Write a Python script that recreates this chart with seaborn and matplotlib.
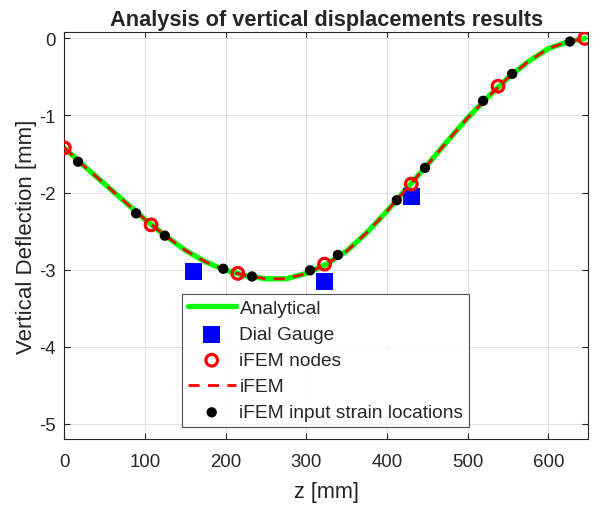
import numpy as np
import pandas as pd
import matplotlib
matplotlib.use('Agg')
import matplotlib.pyplot as plt
import seaborn as sns

# analytical curve
z_curve = [0, 25, 50, 75, 100, 125, 150, 175, 200, 225, 250, 275, 300, 325,
           350, 375, 400, 425, 450, 475, 500, 525, 550, 575, 600, 625, 645]
w_analytical = [-1.42, -1.66, -1.89, -2.12, -2.35, -2.56, -2.75, -2.90, -3.01,
                -3.08, -3.12, -3.12, -3.05, -2.93, -2.76, -2.52, -2.24, -1.94,
                -1.64, -1.33, -1.03, -0.76, -0.51, -0.30, -0.13, -0.04, 0.0]
w_ifem = [-1.42, -1.66, -1.89, -2.12, -2.35, -2.56, -2.75, -2.90, -3.01,
          -3.08, -3.12, -3.12, -3.05, -2.93, -2.76, -2.52, -2.24, -1.94,
          -1.64, -1.33, -1.03, -0.76, -0.51, -0.30, -0.13, -0.04, 0.0]

# dial gauge readings
z_gauge = [160, 322, 430]
w_gauge = [-3.03, -3.15, -2.05]

# iFEM nodes
z_nodes = [0, 107.5, 215, 322.5, 430, 537.5, 645]
w_nodes = [-1.42, -2.42, -3.05, -2.93, -1.89, -0.62, 0.0]

# strain sensor locations
z_strain = [17, 89, 124.5, 197, 232.5, 304.5, 339, 412, 447, 519, 555, 626.5]
w_strain = [-1.60, -2.27, -2.56, -2.99, -3.09, -3.01, -2.81, -2.10, -1.68,
            -0.81, -0.46, -0.04]

sns.set_style('ticks')
plt.rcParams['font.family'] = ['Liberation Sans', 'DejaVu Sans']
plt.rcParams['axes.unicode_minus'] = False

fig = plt.figure(figsize=(6, 5.06), dpi=100)
ax = fig.add_axes([0.1072, 0.1304, 0.8728, 0.8038])

sns.lineplot(x=z_curve, y=w_analytical, ax=ax, color='#00ff00', linewidth=3.8,
             label='Analytical', zorder=2)
sns.scatterplot(x=z_gauge, y=w_gauge, ax=ax, color='#0000ff', marker='s', s=150,
                edgecolor='none', label='Dial Gauge', zorder=3)
sns.scatterplot(x=z_nodes, y=w_nodes, ax=ax, marker='o', s=70, facecolor='none',
                edgecolor='#ff0000', linewidth=2.3, label='iFEM nodes', zorder=5)
sns.lineplot(x=z_curve, y=w_ifem, ax=ax, color='#ff0000', linewidth=2,
             linestyle=(0, (4, 3)), label='iFEM', zorder=4)
sns.scatterplot(x=z_strain, y=w_strain, ax=ax, color='black', marker='o', s=55,
                edgecolor='none', label='iFEM input strain locations', zorder=6)

ax.set_xlim(0, 649)
ax.set_ylim(-5.2, 0.08)
ax.set_xticks(range(0, 700, 100))
ax.set_yticks([-5, -4, -3, -2, -1, 0])
ax.grid(True, color='#e3e3e3', linewidth=0.8)
ax.set_axisbelow(True)
ax.tick_params(direction='in', top=True, right=True, labelsize=13.4,
               colors='#262626', length=4)
ax.tick_params(axis='x', pad=10)
ax.tick_params(axis='y', pad=6)
for sp in ax.spines.values():
    sp.set_color('#262626')
    sp.set_linewidth(0.8)

ax.set_xlabel('z [mm]', fontsize=15.6, color='#262626', labelpad=8)
ax.set_ylabel('Vertical Deflection [mm]', fontsize=16, color='#262626',
              labelpad=2)
ax.set_title('Analysis of vertical displacements results', fontsize=15.7,
             fontweight='bold', pad=5)

leg = ax.legend(loc='upper left', bbox_to_anchor=(0.2247, 0.3565), fontsize=13.8,
                frameon=True, fancybox=False, edgecolor='#262626',
                handlelength=2.5, borderpad=0.3, labelspacing=0.45,
                handletextpad=0.2, borderaxespad=0)
leg.get_frame().set_linewidth(0.8)

fig.savefig('out.png', dpi=100)
